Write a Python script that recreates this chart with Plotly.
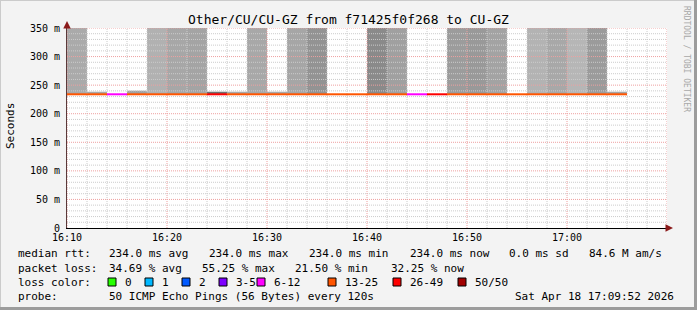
import pandas as pd
import plotly.graph_objects as go

# ---------------- data ----------------
DAY = "2026-04-18"
slot_start = ["16:10", "16:12", "16:14", "16:16", "16:18", "16:20", "16:22", "16:24",
              "16:26", "16:28", "16:30", "16:32", "16:34", "16:36", "16:38", "16:40",
              "16:42", "16:44", "16:46", "16:48", "16:50", "16:52", "16:54", "16:56",
              "16:58", "17:00", "17:02", "17:04"]
median_rtt_ms = [234.0, 234.0, 234.0, 234.0, 234.0, 234.0, 234.0, 234.0,
                 234.0, 234.0, 234.0, 234.0, 234.0, 234.0, 234.0, 234.0,
                 234.0, 234.0, 234.0, 234.0, 234.0, 234.0, 234.0, 234.0,
                 234.0, 234.0, 234.0, 234.0]
smoke_low_ms = [233.5, 233.5, 234.0, 233.5, 233.5, 233.5, 233.5, 233.5,
                233.5, 233.5, 233.5, 233.5, 233.5, 234.0, 234.0, 233.5,
                233.5, 234.0, 234.0, 233.5, 233.5, 233.5, 234.0, 233.5,
                233.5, 233.5, 233.5, 233.5]
smoke_high_ms = [400.0, 238.5, 234.0, 240.3, 400.0, 400.0, 400.0, 238.5,
                 238.5, 400.0, 238.5, 400.0, 400.0, 234.0, 234.0, 400.0,
                 400.0, 234.0, 234.0, 400.0, 400.0, 400.0, 234.0, 400.0,
                 400.0, 400.0, 400.0, 238.5]
loss_pct = [38.0, 30.0, 21.5, 30.0, 42.0, 40.0, 38.0, 55.25,
            30.0, 40.0, 28.0, 38.0, 44.0, 27.0, 28.0, 46.0,
            40.0, 23.0, 54.0, 44.0, 42.0, 40.0, 27.0, 38.0,
            40.0, 38.0, 44.0, 32.25]
loss_labels = ["0", "1", "2", "3-5", "6-12", "13-25", "26-49", "50/50"]
loss_low_count = [0, 1, 2, 3, 6, 13, 26, 50]
loss_high_count = [0, 1, 2, 5, 12, 25, 49, 50]
PINGS = 50
STEP_S = 120

rtt_stats = [234.0, 234.0, 234.0, 234.0]      # avg, max, min, now (ms)
rtt_sd_ms = 0.0
rtt_am_s = "84.6 M"
loss_stats = [34.69, 55.25, 21.50, 32.25]     # avg, max, min, now (%)
title_text = "Other/CU/CU-GZ from f71425f0f268 to CU-GZ"
probe_text = "50 ICMP Echo Pings (56 Bytes) every 120s"
stamp_text = "Sat Apr 18 17:09:52 2026"
x_tick_labels = ["16:10", "16:20", "16:30", "16:40", "16:50", "17:00"]

# ---------------- styles ----------------
loss_colors = ["#26ff00", "#00b8ff", "#0059ff", "#7e00ff", "#ff00ff",
               "#ff5500", "#ff0000", "#a10000"]
smoke_gray = [170, 168, 168, 162, 177, 167, 164, 112,
              168, 168, 168, 166, 147, 168, 168, 138,
              160, 168, 168, 156, 153, 163, 168, 179,
              168, 182, 155, 165]
MONO = "DejaVu Sans Mono"
W, H = 697, 310
L, R, T, B = 67, 30, 28, 82
PW, PH = W - L - R, H - T - B
Y_MAX = 350
grid_major = "#eea0a0"
grid_minor = "#cccccc"


def px(xp):
    return (xp - L) / PW


def py(yp):
    return (T + PH - yp) / PH


starts = [pd.Timestamp(f"{DAY} {s}") for s in slot_start]
ends = [s + pd.Timedelta(seconds=STEP_S) for s in starts]
t0 = pd.Timestamp(f"{DAY} 16:10")
t1 = pd.Timestamp(f"{DAY} 17:10")

fig = go.Figure()

# smoke
fig.add_trace(go.Bar(
    x=starts,
    y=[h - lo for h, lo in zip(smoke_high_ms, smoke_low_ms)],
    base=smoke_low_ms,
    width=STEP_S * 1000, offset=0,
    marker=dict(color=[f"rgb({g},{g},{g})" for g in smoke_gray], line=dict(width=0)),
    showlegend=False, hoverinfo="skip",
))

# grid drawn over the smoke (as rrdtool does), under the median line
minor_t = [t for t in pd.date_range(t0, t1, freq="2min") if t.minute % 10 != 0]
major_t = [t for t in pd.date_range(t0, t1, freq="10min")]
minor_v = [v for v in range(10, Y_MAX, 10) if v % 50 != 0]
major_v = [v for v in range(50, Y_MAX + 1, 50)]


def grid_trace(ts, vs, color):
    xs, ys = [], []
    for t in ts:
        xs += [t, t, None]
        ys += [0, Y_MAX, None]
    for v in vs:
        xs += [t0, t1, None]
        ys += [v, v, None]
    return go.Scatter(x=xs, y=ys, mode="lines",
                      line=dict(color=color, width=1, dash="1px,1px"),
                      showlegend=False, hoverinfo="skip")


fig.add_trace(grid_trace(minor_t, minor_v, grid_minor))
fig.add_trace(grid_trace(major_t, major_v, grid_major))


def bucket(p):
    c = round(p / 100 * PINGS)
    for i, (lo, hi) in enumerate(zip(loss_low_count, loss_high_count)):
        if lo <= c <= hi:
            return i
    return len(loss_labels) - 1


for bi, col in enumerate(loss_colors):
    xs, ys = [], []
    for s, e, m, p in zip(starts, ends, median_rtt_ms, loss_pct):
        if bucket(p) == bi:
            xs += [s, e, None]
            ys += [m, m, None]
    if xs:
        fig.add_trace(go.Scatter(x=xs, y=ys, mode="lines",
                                 line=dict(color=col, width=2),
                                 showlegend=False, hoverinfo="skip"))

yt = list(range(0, Y_MAX + 1, 50))
ytt = ["0"] + [f"{v} m" for v in yt[1:]]

fig.update_layout(
    width=W, height=H,
    margin=dict(l=L, r=R, t=T, b=B, pad=0),
    paper_bgcolor="#f3f3f3", plot_bgcolor="#ffffff",
    font=dict(family=MONO, size=10, color="#000000"),
    showlegend=False,
    xaxis=dict(type="date", range=[t0, t1],
               tickvals=[pd.Timestamp(f"{DAY} {s}") for s in x_tick_labels],
               ticktext=x_tick_labels,
               showgrid=False, showline=True, linecolor="#000000", linewidth=1,
               zeroline=False, ticks="", layer="above traces",
               tickfont=dict(family=MONO, size=10)),
    yaxis=dict(range=[0, Y_MAX], tickvals=yt, ticktext=ytt,
               showgrid=False, showline=True, linecolor="#5a3a3a", linewidth=1,
               zeroline=False, ticks="", ticklabelstandoff=4, layer="above traces",
               tickfont=dict(family=MONO, size=10)),
)

ann = []


def txt(x, y, s, size=11, color="#000000", anchor="left", angle=0):
    ann.append(dict(x=px(x), y=py(y), xref="paper", yref="paper", text=s,
                    showarrow=False, xanchor=anchor, yanchor="middle",
                    textangle=angle, font=dict(family=MONO, size=size, color=color)))


txt(348, 19, title_text, size=13, anchor="center")
txt(10, 126, "Seconds", size=11, anchor="center", angle=-90)
txt(687, 59, "RRDTOOL / TOBI OETIKER", size=8, color="#a8a8a8", anchor="center", angle=90)

y1, y2, y3, y4 = 254, 268, 282, 296
txt(16, y1, "median rtt:")
for xp, v, lab in zip([107, 207, 307, 408], rtt_stats, ["avg", "max", "min", "now"]):
    txt(xp, y1, f"{v:.1f} ms {lab}")
txt(507, y1, f"{rtt_sd_ms:.1f} ms sd")
txt(587, y1, f"{rtt_am_s} am/s")

txt(16, y2, "packet loss:")
for xp, v, lab in zip([107, 200, 293, 389], loss_stats, ["avg", "max", "min", "now"]):
    txt(xp, y2, f"{v:.2f} % {lab}")

txt(16, y3, "loss color:")
sq_x = [108, 145, 182, 219, 257, 328, 393, 458]
shapes = []
for xp, lab, col in zip(sq_x, loss_labels, loss_colors):
    shapes.append(dict(type="rect", xref="paper", yref="paper",
                       x0=px(xp), x1=px(xp + 8), y0=py(y3 + 4), y1=py(y3 - 4),
                       fillcolor=col, line=dict(color="#000000", width=1)))
    txt(xp + 15, y3, lab)

txt(16, y4, "probe:")
txt(107, y4, probe_text)
txt(513, y4, stamp_text)

# axis arrows
ann.append(dict(x=px(L), y=py(21), xref="paper", yref="paper", ax=0, ay=7,
                showarrow=True, arrowhead=2, arrowsize=1, arrowwidth=1.5,
                arrowcolor="#8b1a1a", text=""))
ann.append(dict(x=px(673), y=py(T + PH), xref="paper", yref="paper", ax=-7, ay=0,
                showarrow=True, arrowhead=2, arrowsize=1, arrowwidth=1.5,
                arrowcolor="#8b1a1a", text=""))

# frame
shapes += [
    dict(type="rect", xref="paper", yref="paper", x0=px(0), x1=px(W), y0=py(1), y1=py(0),
         fillcolor="#cbcbcb", line=dict(width=0), layer="below"),
    dict(type="rect", xref="paper", yref="paper", x0=px(0), x1=px(1), y0=py(H), y1=py(0),
         fillcolor="#cbcbcb", line=dict(width=0), layer="below"),
    dict(type="rect", xref="paper", yref="paper", x0=px(0), x1=px(W), y0=py(H), y1=py(H - 3),
         fillcolor="#9c9c9c", line=dict(width=0), layer="below"),
    dict(type="rect", xref="paper", yref="paper", x0=px(W - 3), x1=px(W), y0=py(H), y1=py(0),
         fillcolor="#9c9c9c", line=dict(width=0), layer="below"),
]

fig.update_layout(annotations=ann, shapes=shapes)
fig.write_html("out.html")
